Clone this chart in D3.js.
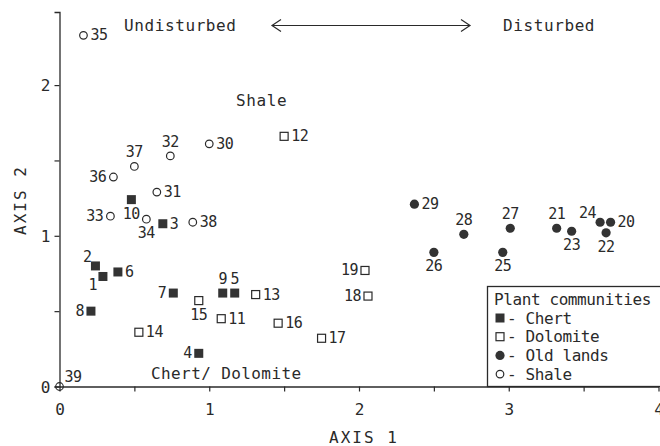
<!DOCTYPE html>
<html>
<head>
<meta charset="utf-8">
<script src="https://cdn.jsdelivr.net/npm/d3@7/dist/d3.min.js"></script>
<style>
  body { margin: 0; background: #fff; }
  svg text { font-family: "DejaVu Sans Mono", monospace; fill: #2a2a2a; }
</style>
</head>
<body>
<div id="chart"></div>
<script>
"use strict";

//********************************* DATA *********************************
var sites  = ["1","2","3","4","5","6","7","8","9","10",
              "11","12","13","14","15","16","17","18","19",
              "20","21","22","23","24","25","26","27","28","29",
              "30","31","32","33","34","35","36","37","38","39"];
var axis1  = [0.29,0.24,0.69,0.93,1.17,0.39,0.76,0.21,1.09,0.48,
              1.08,1.50,1.31,0.53,0.93,1.46,1.75,2.06,2.04,
              3.68,3.32,3.65,3.42,3.61,2.96,2.50,3.01,2.70,2.37,
              1.00,0.65,0.74,0.34,0.58,0.16,0.36,0.50,0.89,0.00];
var axis2  = [0.73,0.80,1.08,0.22,0.62,0.76,0.62,0.50,0.62,1.24,
              0.45,1.66,0.61,0.36,0.57,0.42,0.32,0.60,0.77,
              1.09,1.05,1.02,1.03,1.09,0.89,0.89,1.05,1.01,1.21,
              1.61,1.29,1.53,1.13,1.11,2.33,1.39,1.46,1.09,0.00];
var groups = ["Chert","Chert","Chert","Chert","Chert","Chert","Chert","Chert","Chert","Chert",
              "Dolomite","Dolomite","Dolomite","Dolomite","Dolomite","Dolomite","Dolomite","Dolomite","Dolomite",
              "Old lands","Old lands","Old lands","Old lands","Old lands","Old lands","Old lands","Old lands","Old lands","Old lands",
              "Shale","Shale","Shale","Shale","Shale","Shale","Shale","Shale","Shale","Shale"];
var legendItems = ["Chert","Dolomite","Old lands","Shale"];
var xTicks = [0,0.5,1,1.5,2,2.5,3,3.5,4];
var yTicks = [0,0.5,1,1.5,2];

//********************************* LABEL PLACEMENT *********************************
//where each site number sits next to its marker
var labelSide = {
	"1":"bl","2":"tl","3":"r","4":"l","5":"t","6":"r","7":"l","8":"l","9":"t","10":"b",
	"11":"r","12":"r","13":"r","14":"r","15":"b","16":"r","17":"r","18":"l","19":"l",
	"20":"r","21":"t","22":"b","23":"b","24":"tl","25":"b","26":"b","27":"t","28":"t","29":"r",
	"30":"r","31":"r","32":"t","33":"l","34":"b","35":"r","36":"l","37":"t","38":"r","39":"tr"
};
var sideOffset = {
	r:  [7, 5, "start"],
	l:  [-7, 5, "end"],
	t:  [0, -9, "middle"],
	b:  [0, 19, "middle"],
	bl: [-6, 14, "end"],
	tl: [-4, -4, "end"],
	tr: [5, -5, "start"]
};

//********************************* CANVAS *********************************
var width = 660, height = 446;
var svg = d3.select("#chart").append("svg")
			.attr("width", width)
			.attr("height", height);

var x = d3.scaleLinear().domain([0, 4]).range([59.5, 658.5]);
var y = d3.scaleLinear().domain([0, 2.485]).range([386.5, 12]);

var ink = "#2a2a2a";

//X axis
var gx = svg.append("g")
			.attr("transform", "translate(0," + y(0) + ")")
			.call(d3.axisBottom(x).tickValues(xTicks).tickSize(5).tickSizeOuter(0)
				.tickFormat(function(d){ return d % 1 === 0 ? d3.format("d")(d) : ""; }));
//Y axis
var gy = svg.append("g")
			.attr("transform", "translate(" + x(0) + ",0)")
			.call(d3.axisLeft(y).tickValues(yTicks).tickSize(5).tickSizeOuter(5)
				.tickFormat(function(d){ return d % 1 === 0 ? d3.format("d")(d) : ""; }));

[gx, gy].forEach(function(g){
	g.select(".domain").attr("stroke", ink).attr("stroke-width", 1.3);
	g.selectAll(".tick line").attr("stroke", ink).attr("stroke-width", 1.2);
	g.selectAll(".tick text")
		.attr("fill", ink)
		.style("font-family", "'DejaVu Sans Mono', monospace")
		.style("font-size", "16px");
});
gx.selectAll(".tick text").attr("dy", "1.25em");
gy.selectAll(".tick text").attr("x", -9).attr("dy", "0.36em");

//Axis titles
svg.append("text")
	.attr("x", 364).attr("y", 443)
	.attr("text-anchor", "middle")
	.style("font-size", "16px")
	.style("letter-spacing", "2px")
	.text("AXIS 1");
svg.append("text")
	.attr("transform", "translate(26,200) rotate(-90)")
	.attr("text-anchor", "middle")
	.style("font-size", "16px")
	.style("letter-spacing", "2px")
	.text("AXIS 2");

//********************************* MARKERS *********************************
function drawMarker(sel, group, px, py){
	if(group == "Chert"){
		sel.append("rect").attr("x", px - 4.5).attr("y", py - 4.5)
			.attr("width", 9).attr("height", 9).attr("fill", "#333");
	}
	else if(group == "Dolomite"){
		sel.append("rect").attr("x", px - 4).attr("y", py - 4)
			.attr("width", 8).attr("height", 8)
			.attr("fill", "#fff").attr("stroke", ink).attr("stroke-width", 1.2);
	}
	else if(group == "Old lands"){
		sel.append("circle").attr("cx", px).attr("cy", py).attr("r", 4.6).attr("fill", "#333");
	}
	else{
		sel.append("circle").attr("cx", px).attr("cy", py).attr("r", 3.8)
			.attr("fill", "none").attr("stroke", ink).attr("stroke-width", 1.2);
	}
}

var pts = svg.append("g");
for(var i = 0; i < sites.length; ++i){
	var px = x(axis1[i]), py = y(axis2[i]);
	drawMarker(pts, groups[i], px, py);
	var off = sideOffset[labelSide[sites[i]]];
	pts.append("text")
		.attr("x", px + off[0])
		.attr("y", py + off[1])
		.attr("text-anchor", off[2])
		.style("font-size", "15px")
		.style("letter-spacing", "-0.5px")
		.text(sites[i]);
}

//********************************* ANNOTATIONS *********************************
svg.append("text").attr("x", 124).attr("y", 31)
	.style("font-size", "16px").style("letter-spacing", "0.6px").text("Undisturbed");
svg.append("text").attr("x", 503).attr("y", 31)
	.style("font-size", "16px").style("letter-spacing", "0.6px").text("Disturbed");
svg.append("text").attr("x", 236).attr("y", 106)
	.style("font-size", "16px").style("letter-spacing", "0.6px").text("Shale");
svg.append("text").attr("x", 151).attr("y", 379)
	.style("font-size", "16px").style("letter-spacing", "0.4px").text("Chert/ Dolomite");

//double arrow
var arrow = svg.append("g").attr("stroke", ink).attr("stroke-width", 1.2).attr("fill", "none");
arrow.append("line").attr("x1", 272).attr("y1", 25.5).attr("x2", 470).attr("y2", 25.5);
arrow.append("path").attr("d", "M281,19.5 L272,25.5 L281,31.5");
arrow.append("path").attr("d", "M461,19.5 L470,25.5 L461,31.5");

//********************************* LEGEND *********************************
var lg = svg.append("g");
lg.append("rect")
	.attr("x", 487.5).attr("y", 286.5)
	.attr("width", 180).attr("height", y(0) - 286.5)
	.attr("fill", "#fff").attr("stroke", ink).attr("stroke-width", 1.3);
lg.append("text").attr("x", 494).attr("y", 305)
	.style("font-size", "16px").style("letter-spacing", "-0.4px").text("Plant communities");
for(var k = 0; k < legendItems.length; ++k){
	var ly = 318 + k * 18.7;
	drawMarker(lg, legendItems[k], 500, ly);
	lg.append("text").attr("x", 507).attr("y", ly + 5.5)
		.style("font-size", "16px").style("letter-spacing", "-0.4px")
		.text("- " + legendItems[k]);
}
</script>
</body>
</html>
